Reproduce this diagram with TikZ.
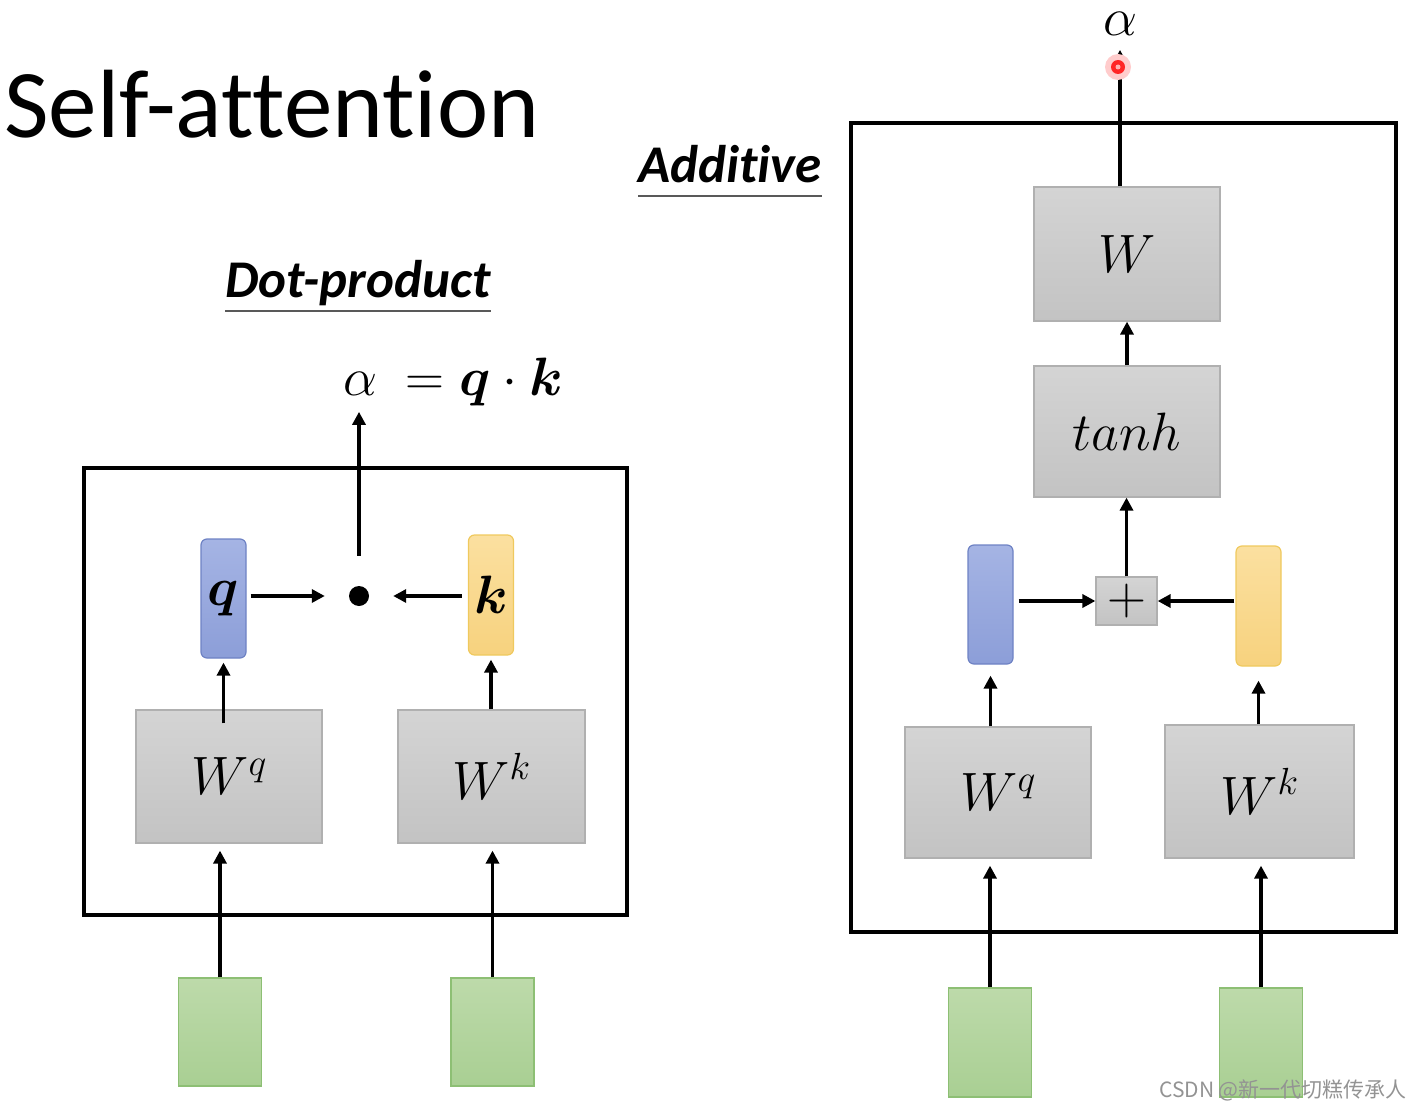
\documentclass[tikz,border=0pt]{standalone}
\usepackage{fix-cm}
\usepackage{amsmath}
\usepackage{fontspec}
\setmainfont{Carlito}[Ligatures=NoCommon]
\newfontfamily\cjk{Noto Sans CJK SC}
\usetikzlibrary{arrows.meta,positioning}
\definecolor{wtop}{HTML}{D4D4D4}
\definecolor{wbot}{HTML}{C3C3C3}
\definecolor{wborder}{HTML}{B0B0B0}
\definecolor{qtop}{HTML}{A5B4E4}
\definecolor{qbot}{HTML}{8C9ED8}
\definecolor{qborder}{HTML}{6E82C4}
\definecolor{ktop}{HTML}{FBE0A0}
\definecolor{kbot}{HTML}{F7D27E}
\definecolor{kborder}{HTML}{EFC95E}
\definecolor{xtop}{HTML}{BDDAAA}
\definecolor{xbot}{HTML}{A9CF93}
\definecolor{xborder}{HTML}{8DBF74}
\newcommand\mathsize{\fontsize{54}{64}\selectfont}

\begin{document}
\begin{tikzpicture}[x=1pt, y=-1pt,
       arr/.style = {-{Triangle[length=13pt,width=13pt]}, line width=3.7pt},
     frame/.style = {draw, line width=4.5pt},
    weight/.style = {draw=wborder, line width=1.2pt, top color=wtop, bottom color=wbot,
                     minimum width=186pt, minimum height=133pt, inner sep=0pt, font=\mathsize},
      vecq/.style = {draw=qborder, line width=1.2pt, rounded corners=6pt, top color=qtop, bottom color=qbot,
                     minimum width=45pt, minimum height=119pt, inner sep=0pt, font=\mathsize},
      veck/.style = {draw=kborder, line width=1.2pt, rounded corners=6pt, top color=ktop, bottom color=kbot,
                     minimum width=45pt, minimum height=119pt, inner sep=0pt, font=\mathsize},
     token/.style = {draw=xborder, line width=1.2pt, top color=xtop, bottom color=xbot,
                     minimum width=83pt, minimum height=108pt, inner sep=0pt},
   heading/.style = {inner sep=0pt, font=\bfseries\itshape\fontsize{53}{60}\selectfont},
     uline/.style = {draw=gray!70!black, line width=2.5pt},
    mlabel/.style = {inner sep=2pt, font=\mathsize}
                    ]
\useasboundingbox (0,0) rectangle (1424,1110);

\node (title) [anchor=base west, inner sep=0pt, font=\fontsize{97}{110}\selectfont] at (4,138) {Self-attention};

% dot-product
\node (dp) [heading, anchor=base] at (358,297) {Dot-product};
\draw[uline] ([yshift=-14pt]dp.base west) -- ([yshift=-14pt]dp.base east);
\draw[frame] (84,468) rectangle (627,915);

\node (lWq)  [weight] at (229,776.5) {$W^q$};
\node (lWk)  [weight, minimum width=187pt] at (491.5,776.5) {$W^k$};
\node (lq)   [vecq] at (223.5,598.5) {$\boldsymbol{q}$};
\node (lk)   [veck, minimum height=120pt] at (491,595) {$\boldsymbol{k}$};
\node (ldot) [circle, fill, minimum size=20pt, inner sep=0pt] at (359,596) {};
\node (lxq)  [token] at (220,1032) {};
\node (lxk)  [token] at (492.5,1032) {};
\node (lalpha) [mlabel] at (360,384) {$\alpha$};
\node (lrest)  [mlabel, base right=24pt of lalpha] {$=\boldsymbol{q}\cdot\boldsymbol{k}$};

\draw[arr, shorten <=-14pt, shorten >=4pt] (lq.south |- lWq.north) -- (lq.south);
\draw[arr, shorten >=4pt] (lk.south |- lWk.north) -- (lk.south);
\draw[arr, shorten >=7pt] (lxq.north) -- (lxq.north |- lWq.south);
\draw[arr, shorten >=7pt] (lxk.north) -- (lxk.north |- lWk.south);
\draw[arr, shorten <=4pt, shorten >=24pt] (lq.east |- ldot) -- (ldot);
\draw[arr, shorten <=6pt, shorten >=24pt] (lk.west |- ldot) -- (ldot);
\draw[arr, shorten <=30pt, shorten >=14pt] (ldot.north) -- (ldot.north |- lalpha.south);

% additive
\node (ad) [heading, anchor=base] at (730,183) {Additive};
\draw[uline] ([yshift=-13pt]ad.base west) -- ([yshift=-13pt]ad.base east);
\draw[frame] (851,123) rectangle (1396,932);

\node (rW)    [weight, minimum height=134pt] at (1127,254) {$W$};
\node (rtanh) [weight, minimum height=131pt] at (1127,431.5) {$tanh$};
\node (rplus) [weight, minimum width=61pt, minimum height=48pt] at (1126.5,601) {$+$};
\node (rq)    [vecq] at (990.5,604.5) {};
\node (rk)    [veck, minimum height=120pt] at (1258.5,606) {};
\node (rWq)   [weight, minimum height=131pt] at (998,792.5) {$W^q$};
\node (rWk)   [weight, minimum width=189pt] at (1259.5,791.5) {$W^k$};
\node (rxq)   [token, minimum height=109pt] at (990,1042.5) {};
\node (rxk)   [token, minimum height=109pt] at (1261,1042.5) {};
\node (ralpha) [mlabel] at (1120,24) {$\alpha$};

\draw[arr, shorten <=5pt] (rq.east |- rplus) -- (rplus.west);
\draw[arr, shorten <=1pt] (rk.west |- rplus) -- (rplus.east);
\draw[arr] (rplus.north) -- (rplus.north |- rtanh.south);
\draw[arr] (rtanh.north) -- (rtanh.north |- rW.south);
\draw[arr, shorten >=12pt] (ralpha |- rW.north) -- (ralpha.south);
\draw[arr, shorten >=11pt] (rq.south |- rWq.north) -- (rq.south);
\draw[arr, shorten >=14pt] (rk.south |- rWk.north) -- (rk.south);
\draw[arr, shorten >=7pt] (rxq.north) -- (rxq.north |- rWq.south);
\draw[arr, shorten >=7pt] (rxk.north) -- (rxk.north |- rWk.south);

% pointer
\fill[red!20] (1118,67) circle (13);
\fill[red!85] (1118,67) circle (7);
\fill[red!30] (1118,67) circle (2.5);

\node (mark) [anchor=base east, inner sep=0pt, text=gray!85, font=\cjk\fontsize{21}{24}\selectfont] at (1407,1097) {CSDN @新一代切糕传承人};
\end{tikzpicture}
\end{document}
